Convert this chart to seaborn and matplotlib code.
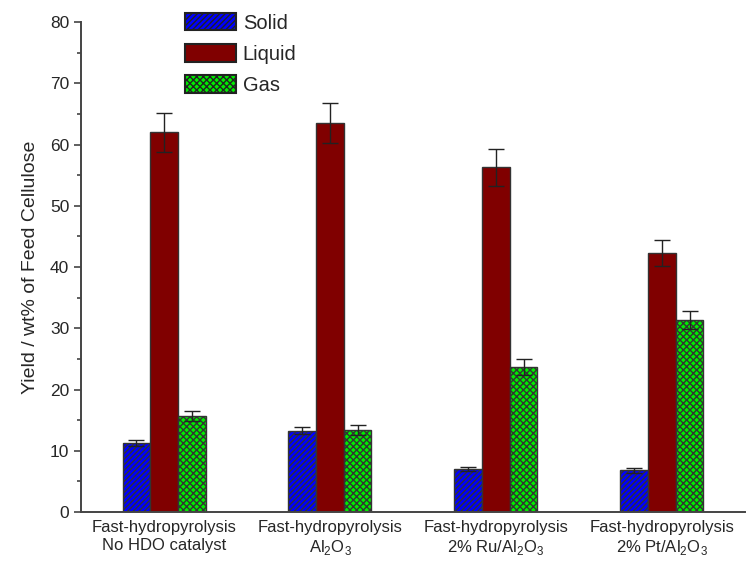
import numpy as np
import matplotlib
matplotlib.use("Agg")
import matplotlib.pyplot as plt
from matplotlib.patches import Patch
import seaborn as sns
import pandas as pd

# data
conditions = ["Fast-hydropyrolysis\nNo HDO catalyst",
              "Fast-hydropyrolysis\nAl$_2$O$_3$",
              "Fast-hydropyrolysis\n2% Ru/Al$_2$O$_3$",
              "Fast-hydropyrolysis\n2% Pt/Al$_2$O$_3$"]
phases = ["Solid", "Liquid", "Gas"]
solid = [11.2, 13.3, 7.0, 6.8]
liquid = [62.0, 63.5, 56.3, 42.3]
gas = [15.7, 13.4, 23.7, 31.4]
solid_err = [0.5, 0.6, 0.3, 0.4]
liquid_err = [3.2, 3.3, 3.0, 2.1]
gas_err = [0.8, 0.8, 1.3, 1.5]

colors = ["#0000ff", "#800000", "#00ee00"]
hatches = ["//////", "", "xxxxx"]

sns.set_style("ticks")
plt.rcParams['font.family'] = ['Liberation Sans', 'DejaVu Sans']
plt.rcParams['mathtext.fontset'] = 'custom'
plt.rcParams['mathtext.rm'] = 'Liberation Sans'
plt.rcParams['hatch.linewidth'] = 1.0

df = pd.DataFrame({
    "cond": [c for c in conditions for _ in phases],
    "phase": phases * len(conditions),
    "value": [v for trio in zip(solid, liquid, gas) for v in trio],
    "err": [v for trio in zip(solid_err, liquid_err, gas_err) for v in trio],
})

fig = plt.figure(figsize=(7.46, 5.65), dpi=100)
ax = fig.add_axes([0.1086, 0.0938, 0.89, 0.867])

sns.barplot(data=df, x="cond", y="value", hue="phase", hue_order=phases,
            order=conditions, palette=colors, width=0.5, errorbar=None,
            edgecolor="#333333", linewidth=1.0, ax=ax, saturation=1, legend=False)

for cont, h, ph in zip(ax.containers, hatches, phases):
    sub = df[df.phase == ph]
    xs = [b.get_x() + b.get_width() / 2 for b in cont]
    ys = [b.get_height() for b in cont]
    for b in cont:
        b.set_hatch(h)
    ax.errorbar(xs, ys, yerr=sub["err"].values, fmt="none", ecolor="#222222",
                elinewidth=1.0, capsize=6, capthick=1.0)

ax.set_xlim(-0.5, 3.5)
ax.set_ylim(0, 80)
ax.set_yticks(range(0, 81, 10))
ax.set_yticks(range(5, 80, 10), minor=True)
ax.tick_params(axis="y", which="major", length=5, width=1.2, labelsize=12.5, color="#444444")
ax.tick_params(axis="y", which="minor", length=3, width=1.2, color="#444444")
ax.tick_params(axis="x", length=0, pad=6, labelsize=12)
ax.set_xlabel("")
ax.set_ylabel("Yield / wt% of Feed Cellulose", fontsize=14, labelpad=8)
for s in ["left", "bottom"]:
    ax.spines[s].set_color("#444444")
    ax.spines[s].set_linewidth(1.4)
sns.despine(ax=ax)

handles = [Patch(facecolor=c, edgecolor="#222222", linewidth=1.5, hatch=h, label=p)
           for c, h, p in zip(colors, hatches, phases)]
ax.legend(handles=handles, loc="upper left", bbox_to_anchor=(0.145, 1.035), frameon=False,
          fontsize=14.5, handlelength=2.5, handleheight=0.95, labelspacing=0.57,
          handletextpad=0.35, borderaxespad=0)

fig.savefig("out.png", dpi=100)
